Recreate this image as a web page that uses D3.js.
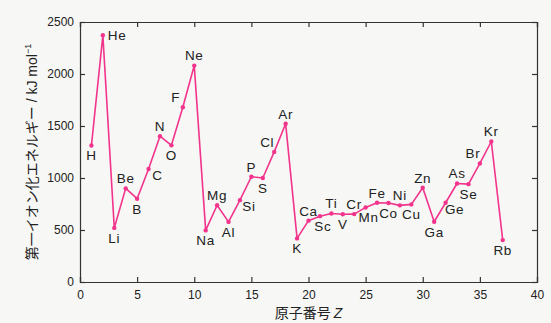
<!DOCTYPE html>
<html>
<head>
<meta charset="utf-8">
<script src="https://cdn.jsdelivr.net/npm/d3@7/dist/d3.min.js"></script>
<style>
  html, body { margin: 0; padding: 0; background: #f7f7f5; }
  svg { display: block; }
  .lbl { font-family: "Liberation Sans", Arial, Helvetica, sans-serif; font-size: 13.5px; letter-spacing: 0.7px; fill: #222; }
  .tick text { font-family: "Liberation Sans", Arial, Helvetica, sans-serif; font-size: 12px; fill: #222; }
  .title { font-family: "Noto Sans CJK JP", "Liberation Sans", sans-serif; font-size: 14px; fill: #222; }
</style>
</head>
<body>
<svg id="chart" width="551" height="323"></svg>
<script>
// First ionization energies for Z = 1..37 (kJ/mol)
const atomicNumbers = d3.range(1, 38);
const symbols = ["H","He","Li","Be","B","C","N","O","F","Ne",
  "Na","Mg","Al","Si","P","S","Cl","Ar",
  "K","Ca","Sc","Ti","V","Cr","Mn","Fe","Co","Ni","Cu","Zn","Ga","Ge","As","Se","Br","Kr",
  "Rb"];
const energies = [1312, 2372, 520, 900, 801, 1086, 1402, 1314, 1681, 2081,
  496, 738, 578, 787, 1012, 1000, 1251, 1521,
  419, 590, 633, 659, 651, 653, 717, 762, 760, 737, 746, 906, 579, 762, 947, 941, 1140, 1351,
  403];
const xTicks = [0, 5, 10, 15, 20, 25, 30, 35, 40];
const yTicks = [0, 500, 1000, 1500, 2000, 2500];

// where each element symbol sits relative to its point
const labelSide = ["b","r","b","t","b","br","t","b","tl","t",
  "b","t","b","br","t","b","tl","t",
  "b","t","bs","t","b","t","bs","t","b","t","b","t","b","br","t","b","tl","t",
  "b"];
const sideOffset = {
  t:  [0, -10],
  b:  [0, 10],
  bs: [3, 10],
  r:  [5, 0],
  br: [9, 6],
  tl: [-7, -10]
};
const sideAnchor = { t: "middle", b: "middle", bs: "middle", r: "start", br: "middle", tl: "middle" };

const svg = d3.select("#chart");
const margin = { left: 80, right: 14, top: 22, bottom: 41 };
const W = 551, H = 323;

const x = d3.scaleLinear().domain([0, 40]).range([margin.left, W - margin.right]);
const y = d3.scaleLinear().domain([0, 2500]).range([H - margin.bottom, margin.top]);

const axisColor = "#333";
const tickLen = 5;
const fmt = d3.format("d");

// frame: bottom and left with labels, top and right mirrored, ticks pointing inward
const gx = svg.append("g").attr("transform", `translate(0,${y(0)})`)
  .call(d3.axisBottom(x).tickValues(xTicks).tickFormat(fmt).tickSize(-tickLen).tickPadding(8));
const gy = svg.append("g").attr("transform", `translate(${x(0)},0)`)
  .call(d3.axisLeft(y).tickValues(yTicks).tickFormat(fmt).tickSize(-tickLen).tickPadding(6));
const gxt = svg.append("g").attr("transform", `translate(0,${y(2500)})`)
  .call(d3.axisTop(x).tickValues(xTicks).tickSize(-tickLen).tickFormat(""));
const gyr = svg.append("g").attr("transform", `translate(${x(40)},0)`)
  .call(d3.axisRight(y).tickValues(yTicks).tickSize(-tickLen).tickFormat(""));

[gx, gy, gxt, gyr].forEach(g => {
  g.select(".domain").attr("stroke", axisColor).attr("stroke-width", 1.2);
  g.selectAll(".tick line").attr("stroke", axisColor).attr("stroke-width", 1.2);
});

// series
const pts = atomicNumbers.map((z, i) => ({ z, e: energies[i], s: symbols[i], side: labelSide[i] }));
const lineColor = "#f2348c";

svg.append("path")
  .datum(pts)
  .attr("fill", "none")
  .attr("stroke", lineColor)
  .attr("stroke-width", 1.6)
  .attr("stroke-linejoin", "round")
  .attr("d", d3.line().x(d => x(d.z)).y(d => y(d.e)));

svg.append("g").selectAll("circle")
  .data(pts).join("circle")
  .attr("cx", d => x(d.z)).attr("cy", d => y(d.e))
  .attr("r", 2.2).attr("fill", lineColor);

svg.append("g").selectAll("text")
  .data(pts).join("text")
  .attr("class", "lbl")
  .attr("x", d => x(d.z) + sideOffset[d.side][0])
  .attr("y", d => y(d.e) + sideOffset[d.side][1])
  .attr("dy", "0.36em")
  .attr("text-anchor", d => sideAnchor[d.side])
  .text(d => d.s);

// axis titles
const xt = svg.append("text").attr("class", "title")
  .attr("x", x(20)).attr("y", 318).attr("text-anchor", "middle");
xt.append("tspan").text("原子番号 ");
xt.append("tspan").attr("font-family", "Liberation Sans, Arial, sans-serif")
  .attr("font-style", "italic").text("Z");

const yt = svg.append("text").attr("class", "title")
  .attr("transform", `translate(37,152) rotate(-90)`)
  .attr("text-anchor", "middle");
yt.append("tspan").text("第一イオン化エネルギー");
yt.append("tspan").attr("font-family", "Liberation Sans, Arial, sans-serif").text(" / kJ mol");
yt.append("tspan").attr("font-family", "Liberation Sans, Arial, sans-serif")
  .attr("font-size", "9px").attr("dy", "-6").text("−1");
</script>
</body>
</html>
